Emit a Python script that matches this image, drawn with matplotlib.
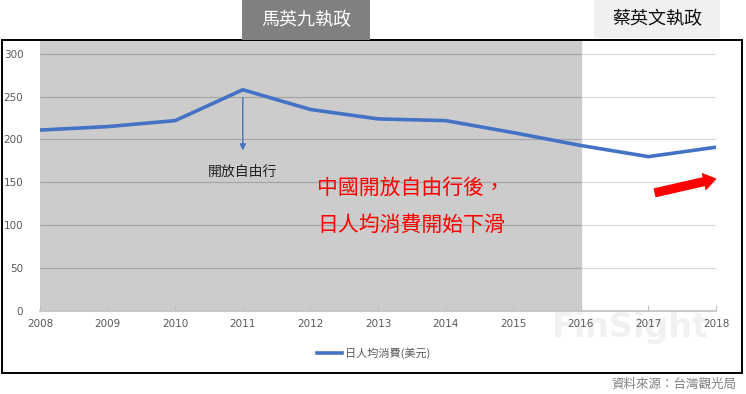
import matplotlib.pyplot as plt
from matplotlib.patches import Rectangle

plt.rcParams['font.family'] = ['Noto Sans CJK TC', 'DejaVu Sans']

years = [2008, 2009, 2010, 2011, 2012, 2013, 2014, 2015, 2016, 2017, 2018]
spend = [211, 215, 222, 258, 235, 224, 222, 208, 193, 180, 191]
series_name = '日人均消費(美元)'
yticks = [0, 50, 100, 150, 200, 250, 300]

W, H = 746, 394
fig = plt.figure(figsize=(W / 100, H / 100), dpi=100)


def fx(px):
    return px / W


def fy(py):
    return 1 - py / H


# outer frame
fig.patches.append(Rectangle((fx(1.5), fy(373)), fx(740.5), (373 - 40) / H,
                             transform=fig.transFigure, fill=False,
                             edgecolor='black', linewidth=1.4))

# faint watermark behind everything
fig.text(fx(630), fy(328), 'FinSight', ha='center', va='center', fontsize=24,
         fontweight='bold', color='#ececec', alpha=0.7, family='DejaVu Sans', zorder=-1)

ax = fig.add_axes([fx(40), fy(311), fx(676), (311 - 40) / H])
ax.patch.set_alpha(0)
ax.set_xlim(2008, 2018)
ax.set_ylim(0, 316)
for s in ['top', 'right', 'left']:
    ax.spines[s].set_visible(False)
ax.spines['bottom'].set_color('#bfbfbf')
ax.spines['bottom'].set_linewidth(1.2)

# shaded Ma era
ax.axvspan(2008, 2016, color='#cccccc', zorder=0)

# grid lines, darker on the shaded part
for v in yticks[1:]:
    ax.hlines(v, 2008, 2016, color='#a6a6a6', linewidth=0.9, zorder=1)
    ax.hlines(v, 2016, 2018, color='#d9d9d9', linewidth=0.9, zorder=1)

ax.plot(years, spend, color='#4472c4', linewidth=2.6, zorder=3, label=series_name)

ax.set_xticks(years)
ax.set_yticks(yticks)
ax.tick_params(axis='x', direction='in', length=4, color='#bfbfbf', labelsize=7.5,
               labelcolor='#595959', pad=6)
ax.tick_params(axis='y', length=0, labelsize=7.5, labelcolor='#595959', pad=12)
for lab in ax.get_xticklabels() + ax.get_yticklabels():
    lab.set_family('DejaVu Sans')

# annotation arrow
ax.annotate('', xy=(2011, 184), xytext=(2011, 252),
            arrowprops=dict(arrowstyle='-|>', color='#4472c4', lw=1, mutation_scale=9))
ax.text(2011, 162, '開放自由行', ha='center', va='center', fontsize=10, color='#222222')

ax.text(2012.1, 142, '中國開放自由行後，', ha='left', va='center', fontsize=15,
        color='#ff0000', fontweight='medium')
ax.text(2012.1, 100, '日人均消費開始下滑', ha='left', va='center', fontsize=15,
        color='#ff0000', fontweight='medium')

# red trend arrow
ax.annotate('', xy=(2018.05, 155), xytext=(2017.05, 137), annotation_clip=False,
            arrowprops=dict(arrowstyle='simple,head_width=1.1,head_length=0.8,tail_width=0.55',
                            color='#ff0000', lw=0, mutation_scale=12))

# period labels
fig.patches.append(Rectangle((fx(242), fy(40)), fx(128), 40 / H, transform=fig.transFigure,
                             facecolor='#808080', edgecolor='none'))
fig.text(fx(306), fy(20), '馬英九執政', ha='center', va='center', fontsize=13,
         color='white', fontweight='medium')
fig.patches.append(Rectangle((fx(594), fy(38)), fx(126), 38 / H, transform=fig.transFigure,
                             facecolor='#f0f0f0', edgecolor='none'))
fig.text(fx(657), fy(19), '蔡英文執政', ha='center', va='center', fontsize=13,
         color='#111111', fontweight='medium')

fig.legend(loc='center', bbox_to_anchor=(fx(374), fy(353)), frameon=False, fontsize=8,
           handlelength=2.2, handletextpad=0.3, labelcolor='#595959')

fig.text(fx(736), fy(384), '資料來源：台灣觀光局', ha='right', va='center', fontsize=9,
         color='#7f7f7f')

fig.savefig('out.png', dpi=100)
